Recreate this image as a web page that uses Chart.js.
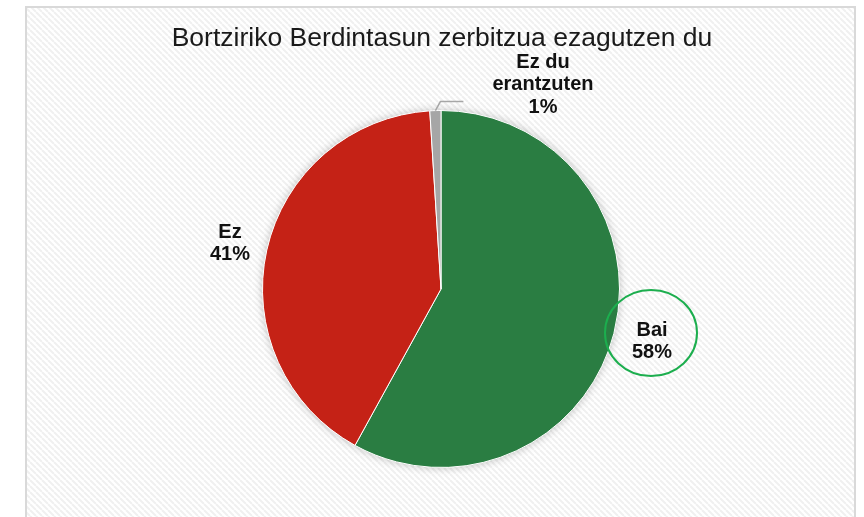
<!DOCTYPE html>
<html>
<head>
<meta charset="utf-8">
<script src="https://cdn.jsdelivr.net/npm/chart.js@4"></script>
<style>
  html, body { margin: 0; padding: 0; background: #fff; }
  #wrap { width: 864px; height: 517px; }
</style>
</head>
<body>
<div id="wrap"><canvas id="pieChart" width="864" height="517"></canvas></div>
<script>
const chartTitle = "Bortziriko Berdintasun zerbitzua ezagutzen du";
const labels = ["Bai", "Ez", "Ez du erantzuten"];
const values = [58, 41, 1];
const colors = ["#2a7d42", "#c52216", "#a6a6a6"];

// where each data label sits (lines of text), in canvas pixels
const labelSpots = [
  { x: 652, y: 330, lines: ["Bai", "58%"] },
  { x: 230, y: 232, lines: ["Ez", "41%"] },
  { x: 543, y: 62, lines: ["Ez du", "erantzuten", "1%"] }
];

function stripes() {
  const c = document.createElement("canvas");
  c.width = 6; c.height = 6;
  const g = c.getContext("2d");
  g.fillStyle = "#ffffff";
  g.fillRect(0, 0, 6, 6);
  g.strokeStyle = "#f0f0f0";
  g.lineWidth = 2;
  for (let k = -6; k <= 12; k += 6) {
    g.beginPath();
    g.moveTo(k, 0);
    g.lineTo(k + 6, 6);
    g.stroke();
  }
  return g.createPattern(c, "repeat");
}

const panelPlugin = {
  id: "panel",
  beforeDraw(chart) {
    const ctx = chart.ctx;
    ctx.save();
    ctx.fillStyle = "#fff";
    ctx.fillRect(0, 0, chart.width, chart.height);
    ctx.fillStyle = stripes();
    ctx.fillRect(26, 7, 829, 520);
    ctx.strokeStyle = "#d9d9d9";
    ctx.lineWidth = 2;
    ctx.strokeRect(26, 7, 829, 520);

    ctx.fillStyle = "#1a1a1a";
    ctx.font = "26.5px 'Liberation Sans', Arial, sans-serif";
    ctx.textAlign = "center";
    ctx.textBaseline = "middle";
    ctx.fillText(chartTitle, 442, 39);

    // soft shadow under the pie
    const arc = chart.getDatasetMeta(0).data[0];
    if (arc) {
      ctx.beginPath();
      ctx.arc(arc.x, arc.y, arc.outerRadius, 0, Math.PI * 2);
      ctx.shadowColor = "rgba(0,0,0,0.25)";
      ctx.shadowBlur = 8;
      ctx.fillStyle = "#ffffff";
      ctx.fill();
    }
    ctx.restore();
  },
  afterDraw(chart) {
    const ctx = chart.ctx;
    ctx.save();
    ctx.fillStyle = "#111";
    ctx.textAlign = "center";
    ctx.textBaseline = "middle";
    ctx.font = "bold 20px 'Liberation Sans', Arial, sans-serif";
    labelSpots.forEach(s => {
      s.lines.forEach((t, i) => {
        ctx.fillText(t, s.x, s.y + i * 22.5);
      });
    });

    // leader line for the small slice
    const small = chart.getDatasetMeta(0).data[2];
    if (small) {
      const mid = (small.startAngle + small.endAngle) / 2;
      const x0 = small.x + Math.cos(mid) * small.outerRadius;
      const y0 = small.y + Math.sin(mid) * small.outerRadius;
      ctx.strokeStyle = "#a6a6a6";
      ctx.lineWidth = 1.5;
      ctx.beginPath();
      ctx.moveTo(x0, y0);
      ctx.lineTo(x0 + 5, y0 - 9);
      ctx.lineTo(x0 + 28, y0 - 9);
      ctx.stroke();
    }

    // green highlight round the "Bai" label
    ctx.strokeStyle = "#1cae4e";
    ctx.lineWidth = 2;
    ctx.beginPath();
    ctx.ellipse(651, 333, 46, 43, 0, 0, Math.PI * 2);
    ctx.stroke();
    ctx.restore();
  }
};

new Chart(document.getElementById("pieChart"), {
  type: "pie",
  data: {
    labels,
    datasets: [{
      data: values,
      backgroundColor: colors,
      borderColor: "#ffffff",
      borderWidth: 1
    }]
  },
  options: {
    responsive: false,
    animation: false,
    layout: {
      padding: { left: 262, right: 244, top: 109, bottom: 48 }
    },
    plugins: {
      legend: { display: false },
      tooltip: { enabled: false },
      title: { display: false }
    }
  },
  plugins: [panelPlugin]
});
</script>
</body>
</html>
